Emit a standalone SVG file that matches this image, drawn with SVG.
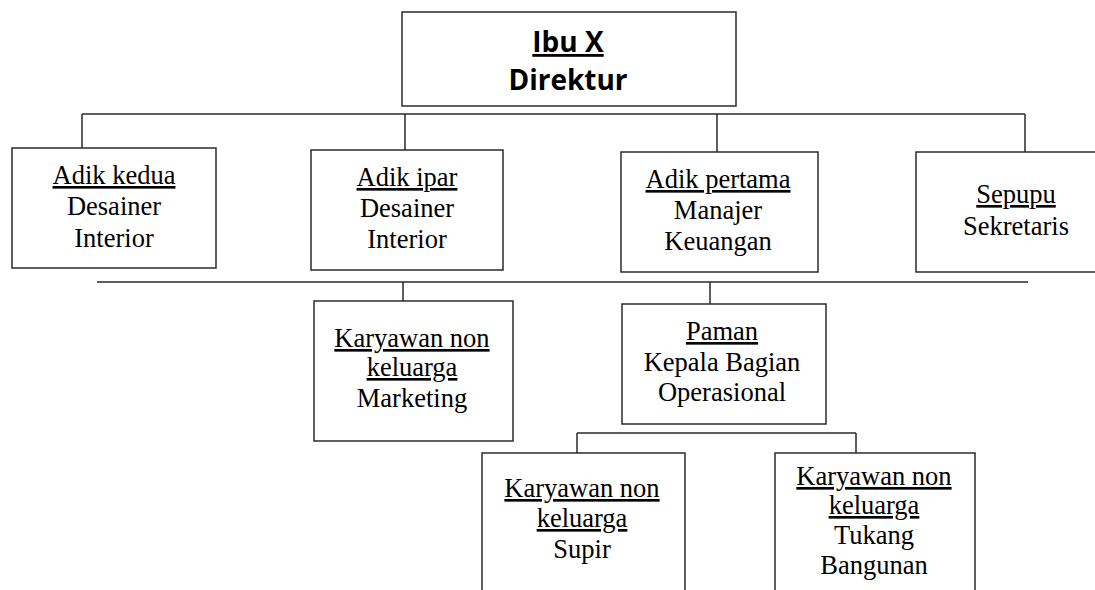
<svg xmlns="http://www.w3.org/2000/svg" width="1095" height="590" viewBox="0 0 1095 590">
<style>
  .box { fill: #ffffff; stroke: #2b2b2b; stroke-width: 1.5; }
  .conn { fill: none; stroke: #2b2b2b; stroke-width: 1.5; }
  .t { font-family: "Liberation Serif", "Times New Roman", serif; font-size: 26.5px; fill: #000; text-anchor: middle; }
  .u { text-decoration: underline; }
  .h { font-family: "Open Sans", "Liberation Sans", sans-serif; font-size: 28px; font-weight: bold; fill: #000; text-anchor: middle; }
</style>
<rect width="1095" height="590" fill="#ffffff"/>
<g id="connectors">
  <path class="conn" d="M82 114 H1025 M82 114 V161 M405 114 V161 M717 114 V161 M1025 114 V161"/>
  <path class="conn" d="M97 282 H1028 M403 282 V318 M710 282 V318"/>
  <path class="conn" d="M577 433 H856 M577 433 V460 M856 433 V459"/>
</g>
<g id="node-direktur">
  <rect class="box" x="402" y="12" width="334" height="94"/>
  <text class="h u" x="568" y="52">Ibu X</text>
  <text class="h" x="568" y="90">Direktur</text>
</g>
<g id="node-adik-kedua">
  <rect class="box" x="12" y="148" width="204" height="120"/>
  <text class="t u" x="114" y="184">Adik kedua</text>
  <text class="t" x="114" y="215">Desainer</text>
  <text class="t" x="114" y="247">Interior</text>
</g>
<g id="node-adik-ipar">
  <rect class="box" x="311" y="150" width="192" height="120"/>
  <text class="t u" x="407" y="186">Adik ipar</text>
  <text class="t" x="407" y="217">Desainer</text>
  <text class="t" x="407" y="248">Interior</text>
</g>
<g id="node-adik-pertama">
  <rect class="box" x="621" y="152" width="197" height="120"/>
  <text class="t u" x="718" y="188">Adik pertama</text>
  <text class="t" x="718" y="219">Manajer</text>
  <text class="t" x="718" y="250">Keuangan</text>
</g>
<g id="node-sepupu">
  <rect class="box" x="916" y="152" width="200" height="120"/>
  <text class="t u" x="1016" y="203">Sepupu</text>
  <text class="t" x="1016" y="235">Sekretaris</text>
</g>
<g id="node-marketing">
  <rect class="box" x="314" y="301" width="199" height="140"/>
  <text class="t u" x="412" y="347">Karyawan non</text>
  <text class="t u" x="412" y="376">keluarga</text>
  <text class="t" x="412" y="407">Marketing</text>
</g>
<g id="node-paman">
  <rect class="box" x="622" y="304" width="204" height="120"/>
  <text class="t u" x="722" y="340">Paman</text>
  <text class="t" x="722" y="371">Kepala Bagian</text>
  <text class="t" x="722" y="401">Operasional</text>
</g>
<g id="node-supir">
  <rect class="box" x="482" y="453" width="203" height="160"/>
  <text class="t u" x="582" y="497">Karyawan non</text>
  <text class="t u" x="582" y="527">keluarga</text>
  <text class="t" x="582" y="558">Supir</text>
</g>
<g id="node-tukang">
  <rect class="box" x="775" y="453" width="200" height="160"/>
  <text class="t u" x="874" y="485">Karyawan non</text>
  <text class="t u" x="874" y="514">keluarga</text>
  <text class="t" x="874" y="544">Tukang</text>
  <text class="t" x="874" y="574">Bangunan</text>
</g>
</svg>
